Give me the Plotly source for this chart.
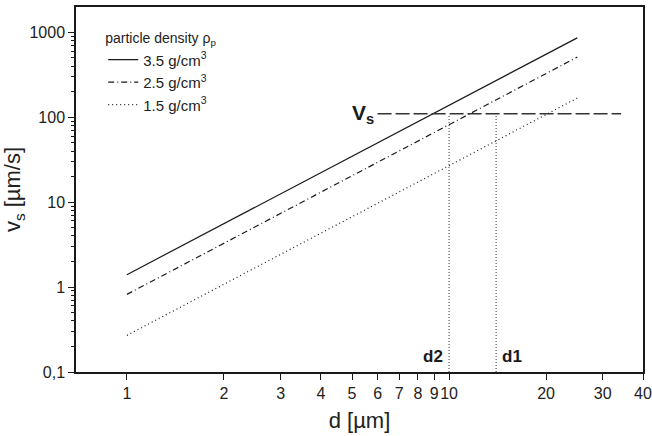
import numpy as np
import plotly.graph_objects as go

# data
d_ends = [1, 25]
v_35 = [1.4, 860]
v_25 = [0.82, 510]
v_15 = [0.27, 168]
series_names = ["3.5 g/cm<sup>3</sup>", "2.5 g/cm<sup>3</sup>", "1.5 g/cm<sup>3</sup>"]
vs_value = 110
vs_d_range = [6.0, 34.2]
d2_value = 10
d1_value = 14
x_tickvals = [1, 2, 3, 4, 5, 6, 7, 8, 9, 10, 20, 30, 40]
x_ticktext = ["1", "2", "3", "4", "5", "6", "7", "8", "9", "10", "20", "30", "40"]
y_tickvals = [0.1, 1, 10, 100, 1000]
y_ticktext = ["0,1", "1", "10", "100", "1000"]

col = "#1a1a1a"
fig = go.Figure()
for vals, name, dash in zip([v_35, v_25, v_15], series_names, ["solid", "6px,3px,1px,3px", "1px,3px"]):
    fig.add_trace(go.Scatter(x=d_ends, y=vals, mode="lines", name=name,
                             line=dict(color=col, width=1.2, dash=dash)))

fig.add_trace(go.Scatter(x=vs_d_range, y=[vs_value, vs_value], mode="lines", showlegend=False,
                         line=dict(color="#333", width=1.6, dash="14px,4px")))
for dv in [d2_value, d1_value]:
    fig.add_trace(go.Scatter(x=[dv, dv], y=[0.1, vs_value * 0.97], mode="lines", showlegend=False,
                             line=dict(color="#333", width=1, dash="1px,2px")))

fig.add_annotation(x=0.767, y=np.log10(vs_value), text="<b>V<sub>s</sub></b>",
                   showarrow=False, xanchor="right", yanchor="middle", xshift=2,
                   font=dict(size=21, color=col))
fig.add_annotation(x=np.log10(d2_value), y=-0.815, text="<b>d2</b>", xshift=-4,
                   showarrow=False, xanchor="right", yanchor="middle", font=dict(size=17, color=col))
fig.add_annotation(x=np.log10(d1_value), y=-0.815, text="<b>d1</b>", xshift=4,
                   showarrow=False, xanchor="left", yanchor="middle", font=dict(size=17, color=col))

axis_common = dict(showline=True, linecolor=col, linewidth=1.5, mirror=True, ticks="outside",
                   tickcolor=col, showgrid=False, zeroline=False, automargin=False,
                   tickfont=dict(size=16, color="#222"))
fig.update_xaxes(type="log", range=[np.log10(0.695), np.log10(40)], tickmode="array",
                 tickvals=x_tickvals, ticktext=x_ticktext, ticklen=6, tickangle=0,
                 title=dict(text="d [µm]", font=dict(size=22, color="#222"), standoff=12), **axis_common)
fig.update_yaxes(type="log", range=[-1, 3.298], tickmode="array",
                 tickvals=y_tickvals, ticktext=y_ticktext, ticklen=6,
                 minor=dict(tickvals=[m * 10 ** e for e in range(-1, 3) for m in range(2, 10)] + [2000],
                            ticks="outside", ticklen=3, tickcolor=col),
                 title=dict(text="v<sub>s</sub> [µm/s]", font=dict(size=22, color="#222"), standoff=3),
                 **axis_common)

fig.update_layout(width=652, height=436, margin=dict(l=76, r=9, t=7, b=64),
                  plot_bgcolor="white", paper_bgcolor="white",
                  font=dict(family="Liberation Sans, Arial, sans-serif", color="#222"),
                  legend=dict(x=0.048, y=0.95, xanchor="left", yanchor="top",
                              title=dict(text="particle density ρ<sub>p</sub>", font=dict(size=14)),
                              font=dict(size=15), bgcolor="rgba(0,0,0,0)", tracegroupgap=0,
                              itemwidth=30))
fig.write_html("out.html", post_script="document.body.style.margin='0';",
               config={"displayModeBar": False})
